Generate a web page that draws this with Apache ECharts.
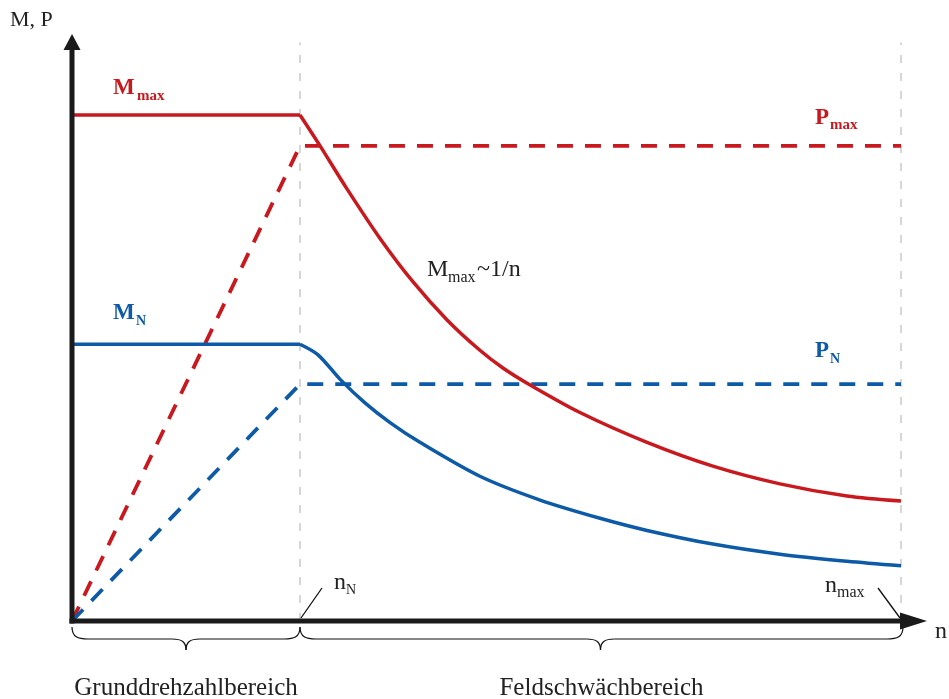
<!DOCTYPE html>
<html>
<head>
<meta charset="utf-8">
<script src="https://cdn.jsdelivr.net/npm/echarts@6/dist/echarts.min.js"></script>
<style>
html,body{margin:0;padding:0;background:#fff;}
#c{width:949px;height:699px;}
</style>
</head>
<body>
<div id="c"></div>
<script>
// ---- data (n relative to n_N = 1; M, P relative to M_max = 100) ----
const nN = 1;
const nMax = 3.636;
const nAxisEnd = 3.75;
const yAxisEnd = 116;
const guideTop = 114.3;

const nMmaxCurve = [0, 1, 1.088, 1.206, 1.351, 1.496, 1.645, 1.789, 1.890, 1.996, 2.228, 2.522, 2.811, 3.105, 3.399, 3.636];
const mMaxValues = [100, 100, 93.9, 85.4, 75.6, 67.0, 59.5, 53.5, 50.0, 47.0, 41.2, 35.3, 30.6, 27.1, 24.7, 23.7];

const nMNCurve = [0, 1, 1.079, 1.175, 1.285, 1.395, 1.526, 1.789, 2.053, 2.316, 2.522, 2.811, 3.105, 3.399, 3.636];
const mNValues = [54.7, 54.7, 52.6, 47.8, 43.1, 39.2, 35.3, 28.6, 23.9, 20.3, 17.9, 15.2, 13.2, 11.8, 10.9];

const nPower = [0, 1, 3.636];
const pMaxValues = [0, 93.9, 93.9];
const pNValues = [0, 46.8, 46.8];

const regionLabels = ['Grunddrehzahlbereich', 'Feldschwächbereich'];

const RED = '#c8191f';
const BLUE = '#0d5aa7';
const GRAY = '#d6d6d6';
const FONT = '"Liberation Serif", "Times New Roman", serif';

const zip = (xs, ys) => xs.map((x, i) => [x, ys[i]]);
const mMaxPts = zip(nMmaxCurve, mMaxValues);
const mNPts = zip(nMNCurve, mNValues);

const chart = echarts.init(document.getElementById('c'), null, {renderer: 'canvas'});

const lineBase = {type: 'line', showSymbol: false, symbol: 'none', silent: true, animation: false};

chart.setOption({
  backgroundColor: '#fff',
  animation: false,
  grid: {left: 72, right: 22, top: 34, bottom: 78, containLabel: false},
  xAxis: {type: 'value', min: 0, max: nAxisEnd, show: false},
  yAxis: {type: 'value', min: 0, max: yAxisEnd, show: false},
  series: [
    Object.assign({}, lineBase, {name: 'guideN', data: [[nN, 0], [nN, guideTop]],
      lineStyle: {color: GRAY, width: 2, type: [8, 10]}, z: 1}),
    Object.assign({}, lineBase, {name: 'guideMax', data: [[nMax, 0], [nMax, guideTop]],
      lineStyle: {color: GRAY, width: 2, type: [8, 10]}, z: 1}),
    Object.assign({}, lineBase, {name: 'Pmax', data: zip(nPower, pMaxValues),
      lineStyle: {color: RED, width: 3.8, type: [16, 12]}, z: 3}),
    Object.assign({}, lineBase, {name: 'PN', data: zip(nPower, pNValues),
      lineStyle: {color: BLUE, width: 3.8, type: [16, 12]}, z: 3}),
    Object.assign({}, lineBase, {name: 'Mmax flat', data: mMaxPts.slice(0, 2),
      lineStyle: {color: RED, width: 3.5}, z: 4}),
    Object.assign({}, lineBase, {name: 'Mmax', data: mMaxPts.slice(1),
      smooth: 0.3, lineStyle: {color: RED, width: 3.5}, z: 4}),
    Object.assign({}, lineBase, {name: 'MN flat', data: mNPts.slice(0, 2),
      lineStyle: {color: BLUE, width: 3.5}, z: 4}),
    Object.assign({}, lineBase, {name: 'MN', data: mNPts.slice(1),
      smooth: 0.3, lineStyle: {color: BLUE, width: 3.5}, z: 4})
  ]
});

const px = (x, y) => chart.convertToPixel({gridIndex: 0}, [x, y]);
const o = px(0, 0);
const pN = px(nN, 0);
const pM = px(nMax, 0);
const xEnd = px(nAxisEnd, 0)[0];
const yEnd = px(0, yAxisEnd)[1];
const ox = o[0], oy = o[1];

function txt(x, baseline, text, size, color, bold, align) {
  return {
    type: 'text', z: 20, silent: true,
    style: {
      x: x, y: baseline - 0.2 * size, text: text,
      font: (bold ? 'bold ' : '') + size + 'px ' + FONT,
      fill: color, textAlign: align || 'left', textVerticalAlign: 'middle'
    }
  };
}

function brace(x0, x1, tip) {
  const yT = oy + 6, yM = oy + 18, yB = oy + 29;
  const st = {stroke: '#111', lineWidth: 1.2, fill: null};
  const segs = [
    {type: 'bezierCurve', shape: {x1: x0, y1: yT, cpx1: x0, cpy1: yM - 2, cpx2: x0 + 6, cpy2: yM, x2: x0 + 16, y2: yM}},
    {type: 'line', shape: {x1: x0 + 16, y1: yM, x2: tip - 14, y2: yM}},
    {type: 'bezierCurve', shape: {x1: tip - 14, y1: yM, cpx1: tip - 4, cpy1: yM, cpx2: tip, cpy2: yM + 3, x2: tip, y2: yB}},
    {type: 'bezierCurve', shape: {x1: tip, y1: yB, cpx1: tip, cpy1: yM + 3, cpx2: tip + 4, cpy2: yM, x2: tip + 14, y2: yM}},
    {type: 'line', shape: {x1: tip + 14, y1: yM, x2: x1 - 16, y2: yM}},
    {type: 'bezierCurve', shape: {x1: x1 - 16, y1: yM, cpx1: x1 - 6, cpy1: yM, cpx2: x1, cpy2: yM - 2, x2: x1, y2: yT}}
  ];
  return segs.map(s => Object.assign(s, {style: st, silent: true, z: 10}));
}

const g = [];
// axes
g.push({type: 'line', z: 12, silent: true, shape: {x1: ox, y1: oy + 2.5, x2: ox, y2: yEnd + 14}, style: {stroke: '#1a1a1a', lineWidth: 5}});
g.push({type: 'polygon', z: 12, silent: true, shape: {points: [[ox - 8.5, yEnd + 16], [ox + 8.5, yEnd + 16], [ox, yEnd]]}, style: {fill: '#1a1a1a'}});
g.push({type: 'line', z: 12, silent: true, shape: {x1: ox - 2.5, y1: oy, x2: xEnd - 25, y2: oy}, style: {stroke: '#1a1a1a', lineWidth: 5}});
g.push({type: 'polygon', z: 12, silent: true, shape: {points: [[xEnd - 27, oy - 8.5], [xEnd - 27, oy + 8.5], [xEnd, oy]]}, style: {fill: '#1a1a1a'}});
// leader lines
g.push({type: 'line', z: 12, silent: true, shape: {x1: pN[0] + 1, y1: oy - 3, x2: pN[0] + 22, y2: oy - 33}, style: {stroke: '#111', lineWidth: 1.3}});
g.push({type: 'line', z: 12, silent: true, shape: {x1: pM[0] - 1, y1: oy - 3, x2: pM[0] - 23, y2: oy - 33}, style: {stroke: '#111', lineWidth: 1.3}});
// braces
brace(ox, pN[0], (ox + pN[0]) / 2).forEach(e => g.push(e));
brace(pN[0], pM[0] + 2, (pN[0] + pM[0]) / 2).forEach(e => g.push(e));
// texts
g.push(txt(10, 25, 'M, P', 22, '#222', false));
g.push(txt(935, 637, 'n', 24, '#222', false));
g.push(txt(113, 93, 'M', 23, RED, true));
g.push(txt(137, 99, 'max', 15, RED, true));
g.push(txt(815, 123, 'P', 23, RED, true));
g.push(txt(830, 128, 'max', 15, RED, true));
g.push(txt(113, 318, 'M', 23, BLUE, true));
g.push(txt(136, 324, 'N', 14, BLUE, true));
g.push(txt(815, 356, 'P', 23, BLUE, true));
g.push(txt(830, 362, 'N', 14, BLUE, true));
g.push(txt(427, 275, 'M', 24, '#222', false));
g.push(txt(448, 281, 'max', 16, '#222', false));
g.push(txt(477, 275, '~1/n', 24, '#222', false));
g.push(txt(334, 588, 'n', 24, '#222', false));
g.push(txt(346, 593, 'N', 14, '#222', false));
g.push(txt(825, 591, 'n', 24, '#222', false));
g.push(txt(837, 596, 'max', 16, '#222', false));
g.push(txt((ox + pN[0]) / 2, 693, regionLabels[0], 25, '#222', false, 'center'));
g.push(txt((pN[0] + pM[0]) / 2 + 1, 693, regionLabels[1], 25, '#222', false, 'center'));

chart.setOption({graphic: {elements: g}});
</script>
</body>
</html>
